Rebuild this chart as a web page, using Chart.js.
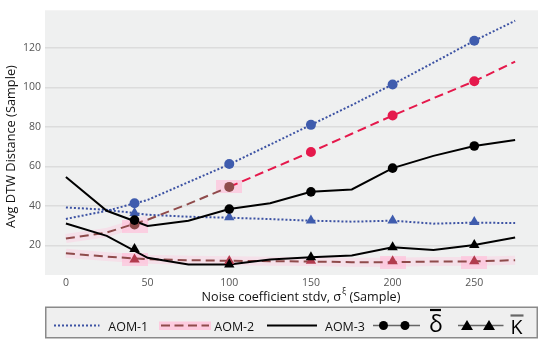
<!DOCTYPE html>
<html><head><meta charset="utf-8">
<script src="https://cdn.jsdelivr.net/npm/chart.js@4"></script>
<style>html,body{margin:0;padding:0;background:#fff;}canvas{display:block;}</style>
</head><body>
<canvas id="c" width="550" height="344"></canvas>
<script>
// ---- data ----
const xLine = [0, 25, 50, 75, 100, 125, 150, 175, 200, 225, 250, 275];
const aom1Delta = [33.4, 37.5, 43, 52, 61, 71, 81, 91, 101.5, 112.5, 123.6, 133.7];
const aom1Kappa = [39.2, 38, 35.5, 34.5, 34, 33.3, 32.5, 32, 32.5, 31, 31.5, 31.3];
const aom2Delta = [23.5, 26.5, 33, 41, 49.6, 58.5, 67.3, 76.5, 85.7, 94.5, 103.1, 113];
const aom2Kappa = [16, 14.3, 13, 12.5, 12.2, 12, 11.8, 11.5, 11.5, 11.8, 11.9, 12.5];
const aom3Delta = [54.6, 37.5, 29.8, 32.5, 38.4, 41.3, 47.1, 48.3, 59.1, 65.3, 70.3, 73.3];
const aom3Kappa = [31.1, 24.8, 13.7, 10.3, 10.3, 12.9, 14.0, 14.9, 19.0, 17.7, 20.2, 24.0];

const markerX = [42, 100, 150, 200, 250];
const aom1DeltaM = [41.3, 61.2, 81.0, 101.4, 123.6];
const aom1KappaM = [36.4, 34.2, 32.6, 32.6, 31.8];
const aom2DeltaM = [30.6, 49.6, 67.3, 85.7, 103.1];
const aom2KappaM = [12.8, 12.1, 12.2, 11.9, 11.9];
const aom3DeltaM = [32.8, 38.4, 47.1, 59.1, 70.3];
const aom3KappaM = [18.2, 10.3, 14.0, 19.0, 20.2];

const highlightX = [42, 100, 42, 200, 250];
const highlightY = [29.5, 49.8, 12.6, 11.3, 11.3];

const xTicks = [0, 50, 100, 150, 200, 250];
const yTicks = [20, 40, 60, 80, 100, 120];
const seriesNames = ['AOM-1', 'AOM-2', 'AOM-3'];

// ---- styles ----
const BLUE = '#3c52a3', BLUE_M = '#3f5cae';
const BROWN = '#8f4b4b', CRIMSON = '#e5194c', RED_T = '#b23b4e';
const PINK = 'rgba(255,196,220,0.38)';
const FONT = "'Open Sans', 'Noto Sans', sans-serif";

const pts = (xs, ys) => xs.map((x, i) => ({ x: x, y: ys[i] }));

const box = document.createElement('canvas');
box.width = 26; box.height = 13;
{ const b = box.getContext('2d'); b.fillStyle = 'rgba(255,192,218,0.7)'; b.fillRect(0, 0, 26, 13); }

const lineDs = (data, color, dash, order, extra) => Object.assign({
  data: data, showLine: true, borderColor: color, borderWidth: 2, borderDash: dash,
  pointRadius: 0, tension: 0, order: order, fill: false
}, extra || {});
const markDs = (data, color, style, r, order) => ({
  data: data, showLine: false, pointStyle: style, pointRadius: r, pointBackgroundColor: color,
  pointBorderColor: color, pointBorderWidth: 0, order: order
});

const bandDelta = pts(xLine, aom2Delta).filter(p => p.x <= 50);

const datasets = [
  markDs(pts(markerX, aom3KappaM), '#000', 'triangle', 6, 1),
  markDs(pts(markerX, aom3DeltaM), '#000', 'circle', 4.8, 1),
  markDs(pts(markerX, aom1DeltaM), BLUE_M, 'circle', 5, 2),
  markDs(pts(markerX, aom1KappaM), BLUE_M, 'triangle', 6, 2),
  markDs(pts(markerX, aom2DeltaM), [BROWN, BROWN, CRIMSON, CRIMSON, CRIMSON], 'circle', 5, 3),
  markDs(pts(markerX, aom2KappaM), RED_T, 'triangle', 6, 3),
  lineDs(pts(xLine, aom3Delta), '#000', [], 4),
  lineDs(pts(xLine, aom3Kappa), '#000', [], 4),
  lineDs(pts(xLine, aom2Delta), BROWN, [9, 5], 5, {
    segment: { borderColor: c => (c.p0.parsed.x < 100 ? BROWN : CRIMSON) }
  }),
  lineDs(pts(xLine, aom2Kappa), BROWN, [9, 5], 5),
  lineDs(pts(xLine, aom1Delta), BLUE, [2, 2], 6),
  lineDs(pts(xLine, aom1Kappa), BLUE, [2, 2], 6),
  { data: pts(highlightX, highlightY), showLine: false, pointStyle: box, order: 7 },
  lineDs(pts(xLine, aom2Kappa), PINK, [], 8, { borderWidth: 9 }),
  lineDs(bandDelta, PINK, [], 8, { borderWidth: 9 })
];

function fitFont(ctx, text, target, base, weight) {
  ctx.font = (weight || '') + ' ' + base + 'px ' + FONT;
  const w = ctx.measureText(text).width;
  return base * target / w;
}

const bgPlugin = {
  id: 'bg',
  beforeDraw(chart) {
    const a = chart.chartArea, ctx = chart.ctx;
    ctx.save(); ctx.fillStyle = '#eff0f0';
    ctx.fillRect(a.left, a.top, a.right - a.left, a.bottom - a.top);
    ctx.restore();
  }
};

const textPlugin = {
  id: 'texts',
  afterDraw(chart) {
    const ctx = chart.ctx;
    ctx.save();
    ctx.fillStyle = '#111';
    // y title
    const yt = 'Avg DTW Distance (Sample)';
    const ys = fitFont(ctx, yt, 163, 13);
    ctx.font = ys + 'px ' + FONT;
    ctx.translate(11, 146.5); ctx.rotate(-Math.PI / 2);
    ctx.textAlign = 'center'; ctx.textBaseline = 'middle';
    ctx.fillText(yt, 0, 0);
    ctx.setTransform(1, 0, 0, 1, 0, 0);

    // x title with superscript
    const p1 = 'Noise coefficient stdv, \u03C3', sup = '\u03BE', p2 = ' (Sample)';
    let s = 13;
    ctx.font = s + 'px ' + FONT;
    let w1 = ctx.measureText(p1).width, w3 = ctx.measureText(p2).width;
    ctx.font = (s * 0.7) + 'px ' + FONT;
    let w2 = ctx.measureText(sup).width + 1;
    s = s * 199 / (w1 + w2 + w3);
    ctx.font = s + 'px ' + FONT;
    w1 = ctx.measureText(p1).width; w3 = ctx.measureText(p2).width;
    ctx.font = (s * 0.7) + 'px ' + FONT;
    w2 = ctx.measureText(sup).width + 1;
    const x0 = 301 - (w1 + w2 + w3) / 2;
    ctx.textAlign = 'left'; ctx.textBaseline = 'alphabetic';
    ctx.font = s + 'px ' + FONT;
    ctx.fillText(p1, x0, 300.5);
    ctx.font = (s * 0.7) + 'px ' + FONT;
    ctx.fillText(sup, x0 + w1 + 1, 294);
    ctx.font = s + 'px ' + FONT;
    ctx.fillText(p2, x0 + w1 + w2, 300.5);

    // legend box
    ctx.fillStyle = '#efefef';
    ctx.fillRect(45, 307, 492, 31);
    ctx.strokeStyle = '#8a8a8a'; ctx.lineWidth = 1.5;
    ctx.strokeRect(45.75, 307.25, 491.5, 30.5);
    const ly = 325.5;
    const seg = (x1, x2, color, dash, lw) => {
      ctx.beginPath(); ctx.setLineDash(dash); ctx.strokeStyle = color; ctx.lineWidth = lw;
      ctx.moveTo(x1, ly); ctx.lineTo(x2, ly); ctx.stroke(); ctx.setLineDash([]);
    };
    seg(54, 99.5, BLUE, [2, 2], 2);
    ctx.fillStyle = 'rgba(255,196,220,0.85)';
    ctx.fillRect(159, 321.5, 52, 8.5);
    seg(161, 209, BROWN, [9, 4.5], 2);
    seg(267, 317, '#000', [], 2);
    const ls = fitFont(ctx, 'AOM-1', 40, 14);
    ctx.font = ls + 'px ' + FONT;
    ctx.fillStyle = '#111';
    ctx.textBaseline = 'alphabetic';
    ctx.fillText(seriesNames[0], 108.3, 331);
    ctx.fillText(seriesNames[1], 214.3, 331);
    ctx.fillText(seriesNames[2], 325, 331);
    // circle marker sample
    seg(373, 420, '#666', [], 1.5);
    ctx.fillStyle = '#000';
    [383.5, 405].forEach(cx => { ctx.beginPath(); ctx.arc(cx, ly, 4.5, 0, Math.PI * 2); ctx.fill(); });
    ctx.font = '23px ' + FONT;
    ctx.fillText('\u03B4', 429, 332);
    ctx.beginPath(); ctx.strokeStyle = '#000'; ctx.lineWidth = 2.2;
    ctx.moveTo(430, 310); ctx.lineTo(441, 310); ctx.stroke();
    // triangle sample
    seg(458, 503.5, '#666', [], 1.5);
    ctx.fillStyle = '#000';
    [467, 489].forEach(cx => {
      ctx.beginPath(); ctx.moveTo(cx, ly - 5.5); ctx.lineTo(cx + 6, ly + 4.5); ctx.lineTo(cx - 6, ly + 4.5);
      ctx.closePath(); ctx.fill();
    });
    ctx.font = '19.5px ' + FONT;
    ctx.fillText('\u039A', 510.5, 333.5);
    ctx.beginPath(); ctx.lineWidth = 2.2;
    ctx.moveTo(510.5, 315.5); ctx.lineTo(523.5, 315.5); ctx.stroke();
    ctx.restore();
  }
};

new Chart(document.getElementById('c'), {
  type: 'scatter',
  data: { datasets: datasets },
  options: {
    responsive: false, animation: false, clip: false,
    layout: { padding: { top: 5, right: 12, left: 0, bottom: 0 } },
    plugins: { legend: { display: false }, tooltip: { enabled: false } },
    scales: {
      x: {
        type: 'linear', min: -12.8, max: 289,
        grid: { display: false, drawTicks: false }, border: { display: false },
        ticks: { color: '#555', font: { family: FONT, size: 10.5 }, padding: 2 },
        afterBuildTicks: sc => { sc.ticks = xTicks.map(v => ({ value: v })); },
        afterFit: sc => { sc.height = 69; }
      },
      y: {
        type: 'linear', min: 5, max: 139,
        grid: { color: '#dcdcdc', lineWidth: 1.5, drawTicks: false }, border: { display: false },
        ticks: { color: '#555', font: { family: FONT, size: 10.5 }, padding: 4 },
        afterBuildTicks: sc => { sc.ticks = yTicks.map(v => ({ value: v })); },
        afterFit: sc => { sc.width = 45; }
      }
    }
  },
  plugins: [bgPlugin, textPlugin]
});
</script>
</body></html>
